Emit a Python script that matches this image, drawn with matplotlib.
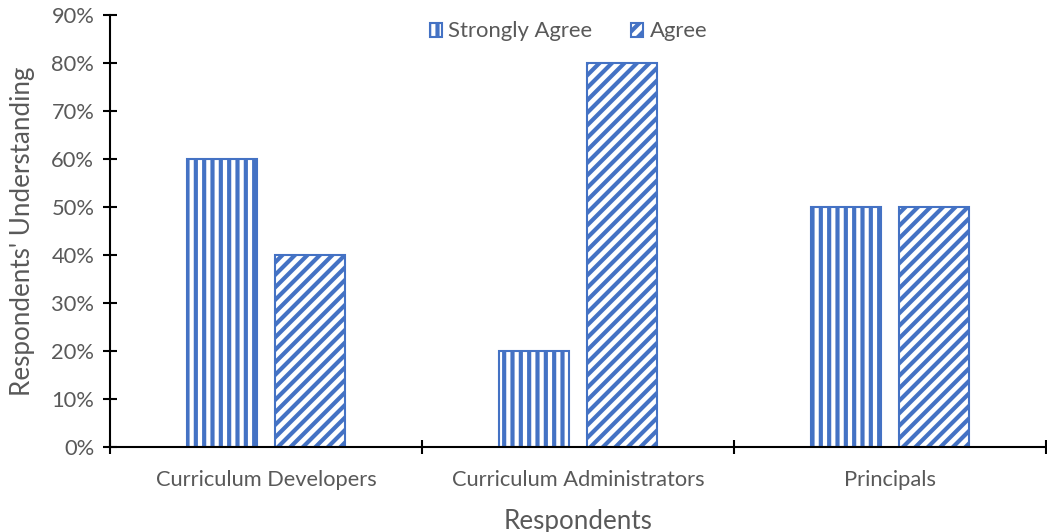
import matplotlib
matplotlib.use("Agg")
import matplotlib.pyplot as plt
import numpy as np
from matplotlib.ticker import PercentFormatter, FixedLocator

categories = ["Curriculum Developers", "Curriculum Administrators", "Principals"]
strongly_agree = [60, 20, 50]
agree = [40, 80, 50]
series_names = ["Strongly Agree", "Agree"]

BLUE = "#4472C4"
GRAY = "#595959"

plt.rcParams["font.family"] = ["Lato", "DejaVu Sans"]
plt.rcParams["hatch.linewidth"] = 2.0
plt.rcParams["hatch.color"] = BLUE

DPI = 150
fig = plt.figure(figsize=(1047 / DPI, 532 / DPI), dpi=DPI)
ax = fig.add_axes([110 / 1047, 1 - 447 / 532, 936 / 1047, (447 - 15) / 532])

x = np.arange(len(categories))
width = 0.224
offset = 0.142

ax.bar(x - offset, strongly_agree, width, facecolor="white", edgecolor=BLUE,
       hatch="|||", linewidth=1.0, label=series_names[0])
ax.bar(x + offset, agree, width, facecolor="white", edgecolor=BLUE,
       hatch="////", linewidth=1.0, label=series_names[1])

ax.set_xlim(-0.5, len(categories) - 0.5)
ax.set_ylim(0, 90)
ax.yaxis.set_major_locator(FixedLocator(np.arange(0, 91, 10)))
ax.yaxis.set_major_formatter(PercentFormatter(decimals=0))

# Boundaries between categories carry the ticks; names sit at the centres
ax.xaxis.set_major_locator(FixedLocator(np.arange(-0.5, len(categories), 1.0)))
ax.xaxis.set_minor_locator(FixedLocator(x))
ax.xaxis.set_major_formatter(plt.NullFormatter())
ax.set_xticks(x, categories, minor=True)

for s in ["top", "right"]:
    ax.spines[s].set_visible(False)
for s in ["left", "bottom"]:
    ax.spines[s].set_color("black")
    ax.spines[s].set_linewidth(1.0)

ax.tick_params(axis="y", which="major", direction="inout", length=7, width=1.0,
               color="black", labelcolor=GRAY, labelsize=10.5, pad=4)
ax.tick_params(axis="x", which="major", direction="inout", length=7, width=1.0,
               color="black")
ax.tick_params(axis="x", which="minor", length=0, labelcolor=GRAY, labelsize=10.5,
               pad=11)

ax.set_ylabel("Respondents' Understanding", color=GRAY, fontsize=12.5, labelpad=8)
ax.set_xlabel("Respondents", color=GRAY, fontsize=12.5, labelpad=9)

leg = ax.legend(loc="upper center", bbox_to_anchor=(0.49, 1.031), ncol=2,
                frameon=False, fontsize=10.6, labelcolor=GRAY,
                handlelength=0.55, handleheight=0.6, handletextpad=0.3,
                columnspacing=1.75)

fig.savefig("out.png", dpi=DPI, facecolor="white")
